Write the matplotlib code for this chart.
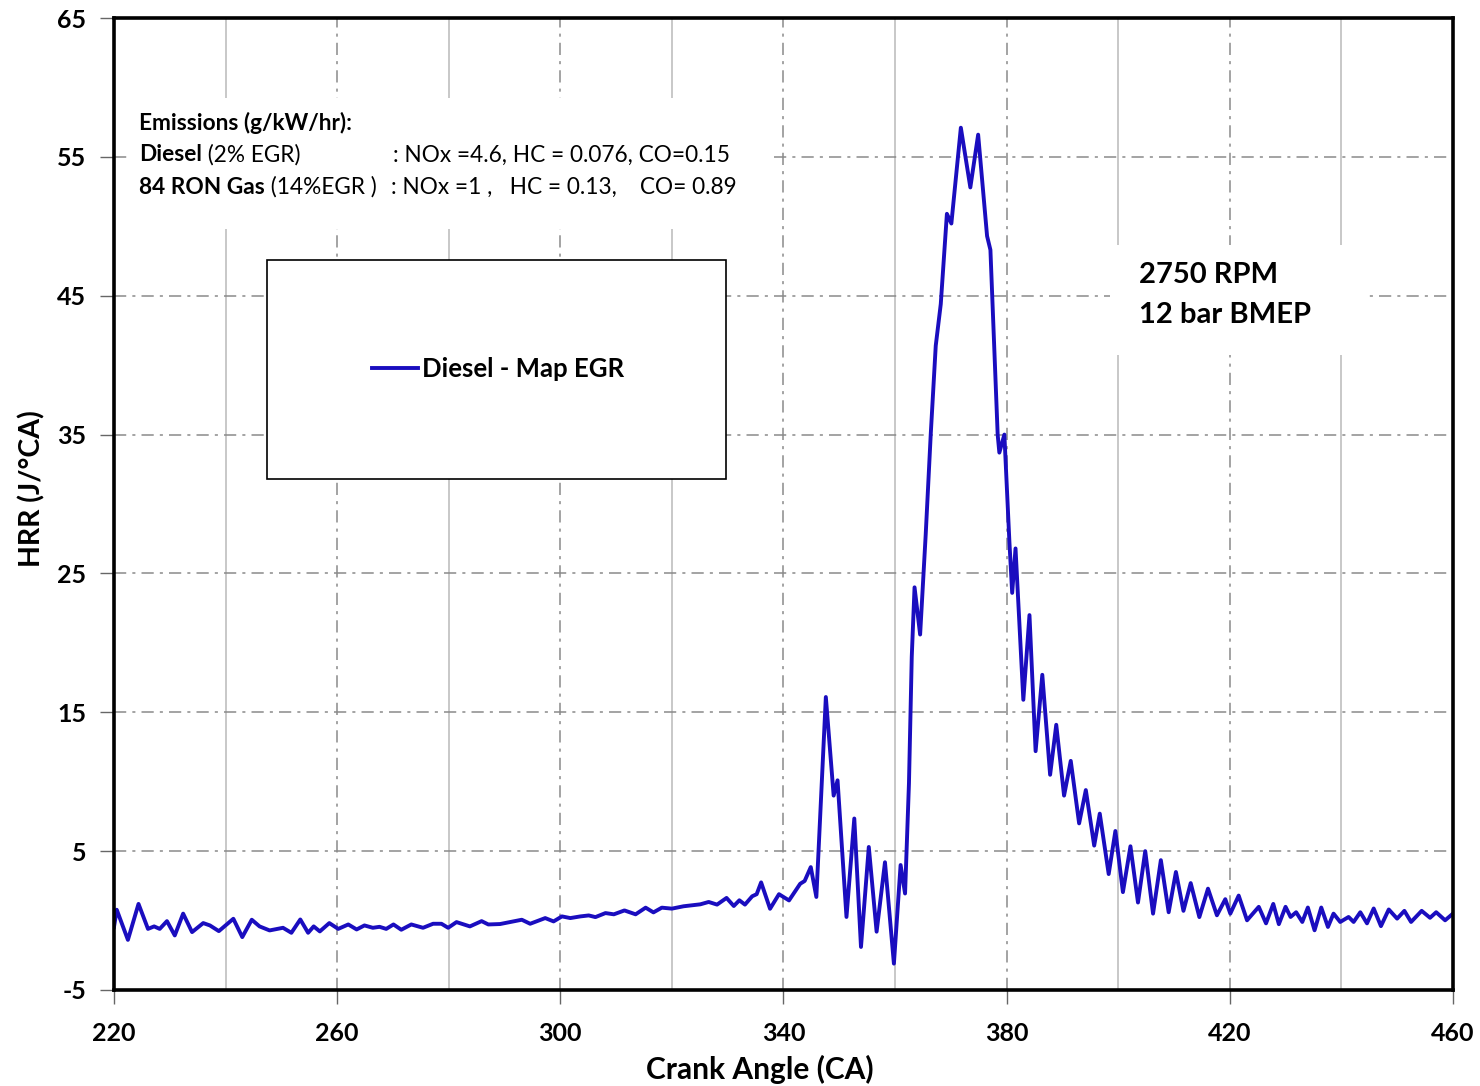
import matplotlib
matplotlib.use("Agg")
import matplotlib.pyplot as plt
from matplotlib.patches import Rectangle

# HRR trace (crank angle, J/deg CA)
crank_angle = [
    220.0, 220.5, 222.5, 224.4, 226.1, 227.2, 228.2, 229.5, 230.9, 232.4,
    234.0, 236.0, 237.2, 238.8, 241.4, 243.0, 244.7, 246.1, 247.9, 250.3,
    251.8, 253.4, 254.8, 255.8, 256.9, 258.6, 260.2, 262.0, 263.5, 264.9,
    266.4, 267.6, 268.8, 270.1, 271.5, 273.3, 275.4, 277.2, 278.7, 279.9,
    281.4, 283.8, 285.9, 287.1, 289.2, 291.0, 293.1, 294.6, 297.3, 298.8,
    300.3, 301.8, 303.6, 305.1, 306.3, 308.1, 309.6, 311.5, 313.5, 315.3,
    316.7, 318.2, 320.0, 322.1, 325.1, 326.6, 328.1, 329.8, 331.1, 332.1,
    333.1, 334.4, 335.2, 336.0, 337.6, 339.2, 341.0, 343.0, 343.8, 344.9,
    345.9, 347.6, 349.0, 349.7, 351.3, 352.7, 353.9, 355.3, 356.7, 358.2,
    359.8, 361.0, 361.8, 362.5, 363.0, 363.5, 364.5, 365.5, 366.4, 367.3,
    368.2, 369.3, 370.1, 371.8, 373.5, 374.9, 376.5, 377.1, 377.8, 378.4,
    378.7, 379.6, 380.5, 381.0, 381.6, 383.0, 384.1, 385.2, 386.4, 387.8,
    388.9, 390.3, 391.5, 393.0, 394.2, 395.7, 396.7, 398.3, 399.5, 400.85,
    402.2, 403.55, 404.85, 406.25, 407.65, 409.05, 410.35, 411.7, 413.0, 414.55,
    416.1, 417.7, 419.2, 420.1, 421.6, 423.1, 425.2, 426.5, 427.8, 428.8,
    430.0, 430.9, 431.9, 433.0, 434.0, 435.2, 436.4, 437.6, 438.6, 439.8,
    441.3, 442.2, 443.4, 444.6, 445.8, 447.1, 448.5, 450.0, 451.3, 452.5,
    454.4, 455.9, 457.0, 458.6, 460.0,
]
hrr = [
    -0.47, 0.78, -1.39, 1.2, -0.6, -0.42, -0.6, -0.04, -1.07, 0.5,
    -0.83, -0.18, -0.35, -0.76, 0.13, -1.19, 0.06, -0.42, -0.71, -0.52,
    -0.88, 0.08, -0.88, -0.42, -0.78, -0.18, -0.6, -0.28, -0.64, -0.35,
    -0.52, -0.45, -0.6, -0.28, -0.66, -0.28, -0.52, -0.23, -0.23, -0.52,
    -0.11, -0.42, -0.04, -0.28, -0.25, -0.11, 0.06, -0.23, 0.18, -0.06,
    0.3, 0.18, 0.3, 0.37, 0.25, 0.54, 0.45, 0.73, 0.45, 0.93,
    0.59, 0.93, 0.86, 1.03, 1.17, 1.34, 1.15, 1.63, 1.05, 1.46,
    1.15, 1.75, 1.9, 2.75, 0.85, 1.9, 1.45, 2.65, 2.85, 3.85,
    1.7, 16.1, 9.0, 10.1, 0.26, 7.35, -1.9, 5.3, -0.8, 4.2,
    -3.1, 4.0, 1.95, 9.9, 19.0, 24.0, 20.6, 27.8, 35.0, 41.4,
    44.4, 50.9, 50.2, 57.1, 52.8, 56.6, 49.3, 48.3, 41.1, 35.0,
    33.7, 35.0, 27.3, 23.6, 26.8, 15.9, 22.0, 12.2, 17.7, 10.5,
    14.1, 9.0, 11.5, 7.0, 9.4, 5.4, 7.7, 3.35, 6.45, 2.05,
    5.35, 1.3, 5.0, 0.5, 4.35, 0.6, 3.5, 0.7, 2.7, 0.25,
    2.3, 0.38, 1.54, 0.5, 1.8, 0.02, 0.99, -0.2, 1.2, -0.26,
    0.99, 0.26, 0.6, -0.1, 0.94, -0.7, 0.94, -0.46, 0.5, -0.1,
    0.26, -0.1, 0.6, -0.2, 0.87, -0.4, 0.8, 0.14, 0.7, -0.1,
    0.7, 0.2, 0.6, 0.02, 0.5,
]

x_ticks = [220, 260, 300, 340, 380, 420, 460]
x_minor = [240, 280, 320, 360, 400, 440]
y_ticks = [-5, 5, 15, 25, 35, 45, 55, 65]

plt.rcParams['font.family'] = ['Lato', 'DejaVu Sans']

fig = plt.figure(figsize=(14.8, 10.86), dpi=100)
ax = fig.add_axes([0.077, 0.0884, 0.9047, 0.8950])
ax.set_axisbelow(True)

line, = ax.plot(crank_angle, hrr, color='#1a0dbf', lw=2.8,
                solid_joinstyle='round', label='Diesel - Map EGR', zorder=2)

ax.set_xlim(220, 460)
ax.set_ylim(-5, 65)
ax.set_xticks(x_ticks, labels=[str(v) for v in x_ticks],
              fontsize=18, fontweight='bold')
ax.set_xticks(x_minor, minor=True)
ax.set_yticks(y_ticks, labels=[str(v) for v in y_ticks],
              fontsize=18, fontweight='bold')

# grid: dash-dot on labelled ticks, plain light lines in between
ax.grid(which='major', color='#8a8a8a', lw=1.1, ls=(0, (8, 4, 2, 4)))
ax.grid(which='minor', axis='x', color='#c4c4c4', lw=1.3, ls='-')

for s in ax.spines.values():
    s.set_linewidth(2.6)
    s.set_color('black')

ax.tick_params(which='major', direction='out', length=10, width=1,
               color='#666666')
ax.tick_params(axis='y', pad=10)
ax.tick_params(axis='x', pad=13)
ax.tick_params(which='minor', length=0)

ax.set_xlabel('Crank Angle (CA)', fontsize=21.5, fontweight='bold')
ax.set_ylabel('HRR (J/°CA)', fontsize=20.5, fontweight='bold')
ax.xaxis.set_label_coords(0.4825, -0.067)
ax.yaxis.set_label_coords(-0.051, 0.516)

# white backing for the annotation blocks
ax.add_patch(Rectangle((0.0105, 0.783), 0.48, 0.135, transform=ax.transAxes,
                       fc='white', ec='none', zorder=1))
ax.add_patch(Rectangle((0.7438, 0.6533), 0.1905, 0.1132, transform=ax.transAxes,
                       fc='white', ec='none', zorder=1))

# emissions note
fs = 16.3
ax.text(0.0187, 0.892, 'Emissions (g/kW/hr):', transform=ax.transAxes,
        fontsize=fs, fontweight='bold', va='center', zorder=4)
t1 = ax.text(0.0187, 0.8591, 'Diesel', transform=ax.transAxes,
             fontsize=fs, fontweight='bold', va='center', zorder=4)
ax.annotate(' (2% EGR)', xy=(1, 0.5), xycoords=t1, fontsize=fs,
            va='center', ha='left', zorder=4)
t2 = ax.text(0.0187, 0.8261, '84 RON Gas', transform=ax.transAxes,
             fontsize=fs, fontweight='bold', va='center', zorder=4)
ax.annotate(' (14%EGR )', xy=(1, 0.5), xycoords=t2, fontsize=fs,
            va='center', ha='left', zorder=4)
ax.text(0.2084, 0.8591, ': NOx =4.6, HC = 0.076, CO=0.15',
        transform=ax.transAxes, fontsize=fs, va='center', zorder=4)
ax.text(0.2069, 0.8261, ': NOx =1 ,   HC = 0.13,    CO= 0.89',
        transform=ax.transAxes, fontsize=fs, va='center', zorder=4)

# operating point
ax.text(0.7655, 0.7357, '2750 RPM', transform=ax.transAxes, fontsize=21,
        fontweight='bold', va='center', zorder=4)
ax.text(0.7655, 0.6945, '12 bar BMEP', transform=ax.transAxes, fontsize=21,
        fontweight='bold', va='center', zorder=4)

# legend in a fixed box
ax.add_patch(Rectangle((0.1143, 0.5257), 0.3428, 0.2253, transform=ax.transAxes,
                       fc='white', ec='black', lw=1.2, zorder=3))
ax.legend(handles=[line], loc='center left', bbox_to_anchor=(0.1927, 0.6389),
          frameon=False, handlelength=1.79, handletextpad=0.16,
          borderpad=0, borderaxespad=0,
          prop={'size': 18.5, 'weight': 'bold'}).set_zorder(4)

fig.savefig('out.png', dpi=100)
